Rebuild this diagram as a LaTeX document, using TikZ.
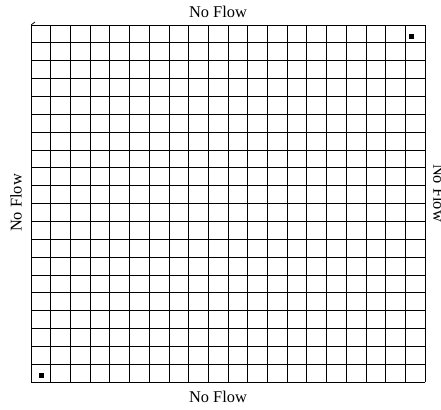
\documentclass[tikz,border=0pt]{standalone}
\usepackage{fontspec}
\setmainfont{Liberation Serif}
\usepackage{tikz}

\begin{document}
\begin{tikzpicture}
        \useasboundingbox (0,0) rectangle (13.23,-12.27);
        \clip (0,0) rectangle (13.23,-12.27);
        % griglia 20x20
        \draw[line width=0.6pt, xstep=0.591, ystep=0.5355, shift={(0.93,-11.46)}] (0,0) grid (11.82,10.71);
        \draw[line width=0.6pt] (0.93,-0.75) -- (1.05,-0.66);
        % pozzi
        \fill (12.33,-1.11) ++(-0.075,-0.075) rectangle ++(0.15,0.15);
        \fill (1.23,-11.25) ++(-0.075,-0.075) rectangle ++(0.15,0.15);
        \node[font=\fontsize{14}{16}\selectfont] (top) at (6.54,-0.36) {No Flow};
        \node[font=\fontsize{14}{16}\selectfont] (bottom) at (6.54,-11.91) {No Flow};
        \node[font=\fontsize{14}{16}\selectfont, rotate=90] (left) at (0.48,-6.09) {No Flow};
        \node[font=\fontsize{14}{16}\selectfont, rotate=-90] (right) at (13.17,-5.79) {No Flow};
    \end{tikzpicture}
\end{document}
